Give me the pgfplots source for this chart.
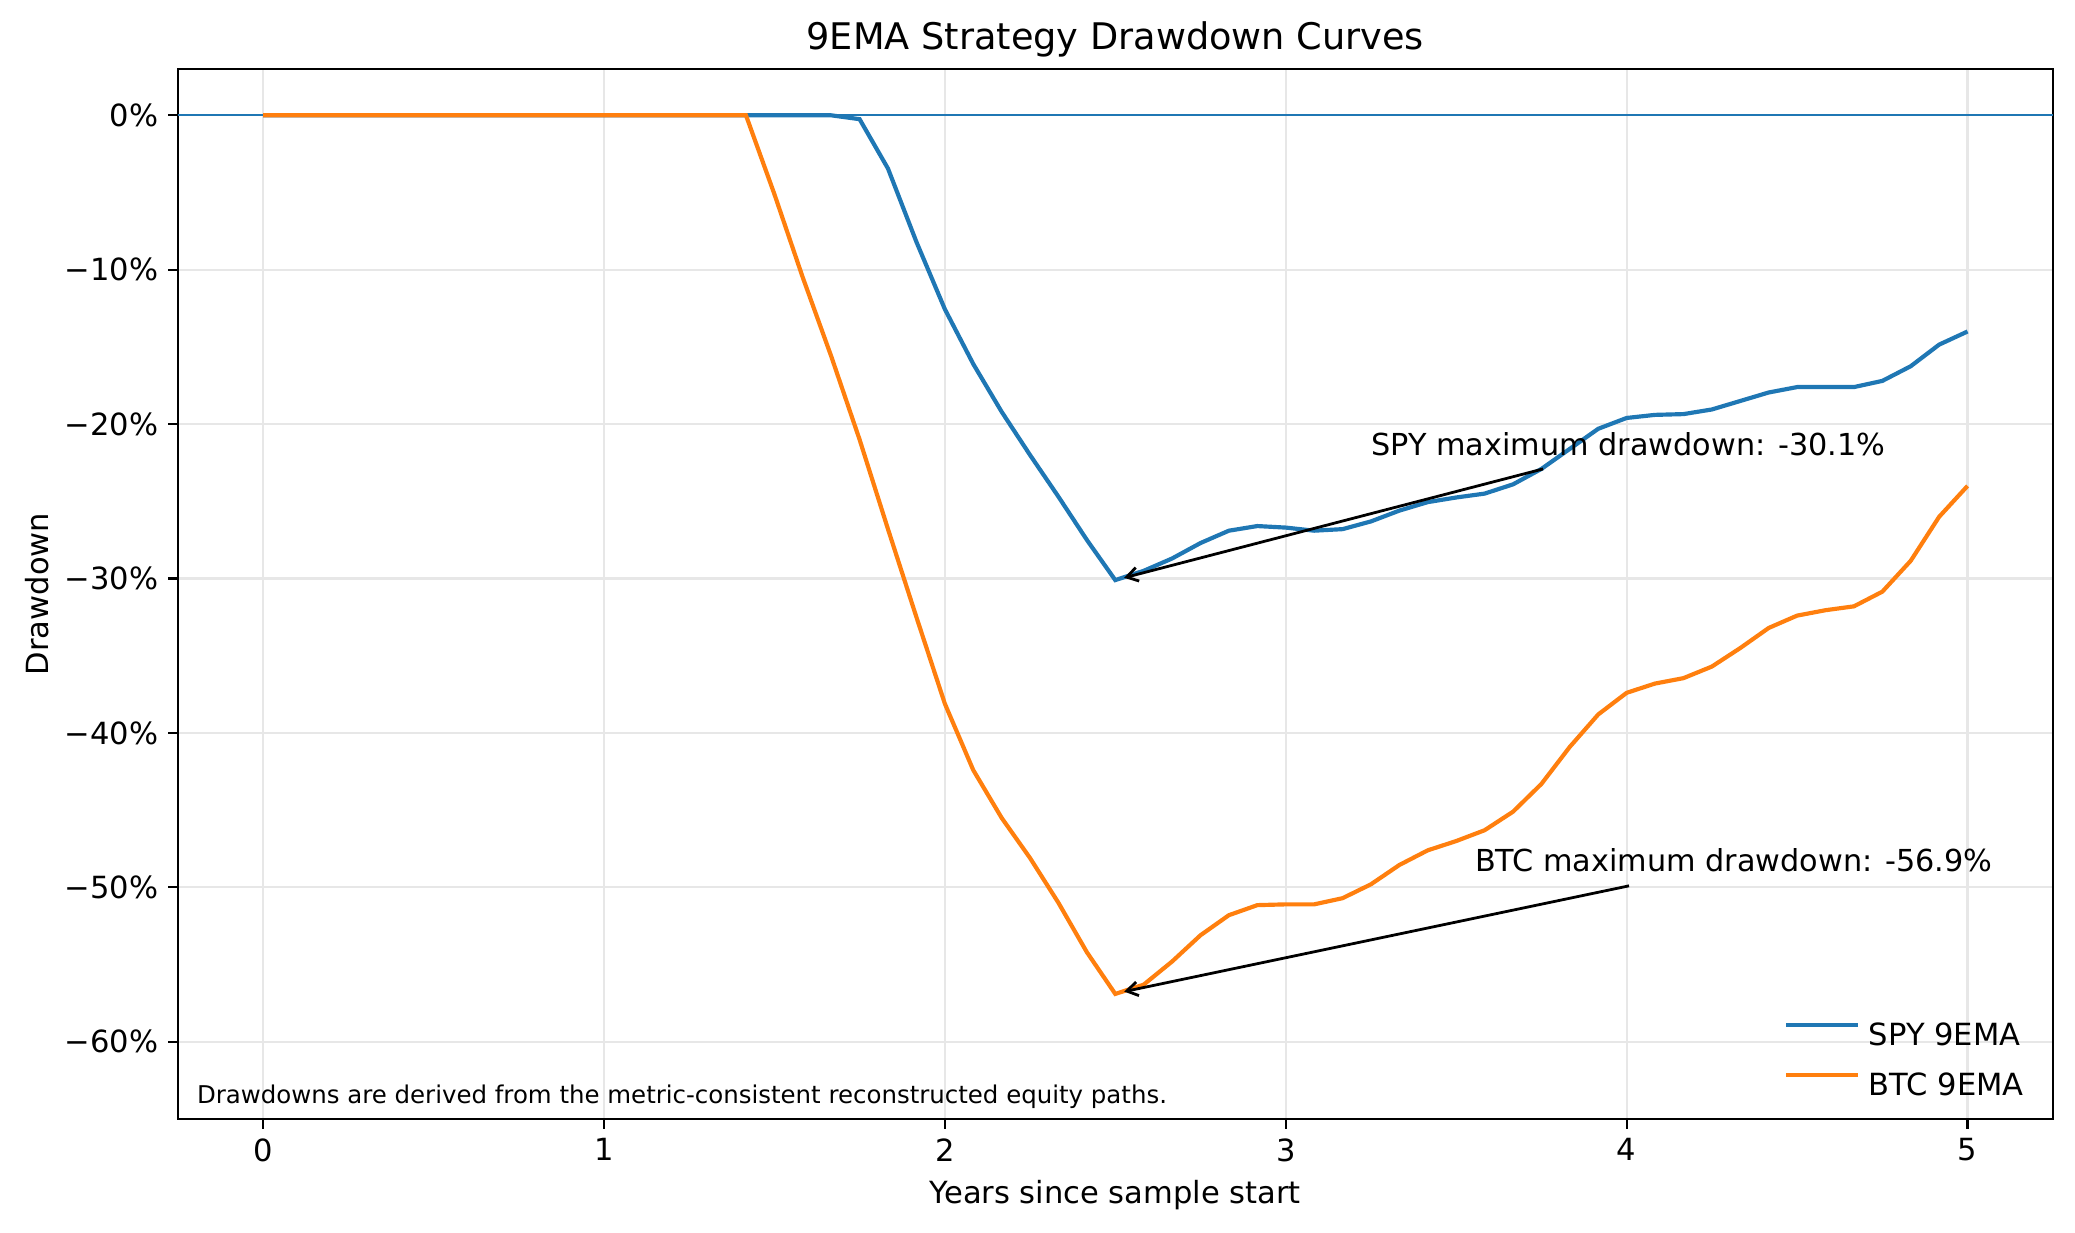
\documentclass[border=0pt]{standalone}
\usepackage{fontspec}
\setmainfont{DejaVu Sans}
\usepackage{pgfplots}
\usepackage{pgfplotstable}
\pgfplotsset{compat=1.18}
\usetikzlibrary{arrows.meta}
\definecolor{c0}{HTML}{1F77B4}
\definecolor{c1}{HTML}{FF7F0E}
\definecolor{gridc}{HTML}{E7E7E7}

\pgfplotstableread{
t v
0 0
1.6667 0
1.75 -0.25
1.8333 -3.45
1.9167 -8.2
2.0 -12.55
2.0833 -16.1
2.1667 -19.2
2.25 -22.0
2.3333 -24.7
2.4167 -27.5
2.5 -30.1
2.5833 -29.5
2.6667 -28.7
2.75 -27.7
2.8333 -26.9
2.9167 -26.6
3.0 -26.7
3.0833 -26.9
3.1667 -26.8
3.25 -26.3
3.3333 -25.6
3.4167 -25.05
3.5 -24.75
3.5833 -24.5
3.6667 -23.9
3.75 -22.9
3.8333 -21.6
3.9167 -20.3
4.0 -19.6
4.0833 -19.4
4.1667 -19.35
4.25 -19.05
4.3333 -18.5
4.4167 -17.95
4.5 -17.6
4.5833 -17.6
4.6667 -17.6
4.75 -17.2
4.8333 -16.25
4.9167 -14.85
5.0 -14.0
}\spy

\pgfplotstableread{
t v
0 0
1.4167 0
1.5 -5.1
1.5833 -10.5
1.6667 -15.6
1.75 -21.0
1.8333 -26.8
1.9167 -32.5
2.0 -38.1
2.0833 -42.4
2.1667 -45.5
2.25 -48.1
2.3333 -51.0
2.4167 -54.2
2.5 -56.9
2.5833 -56.3
2.6667 -54.8
2.75 -53.1
2.8333 -51.8
2.9167 -51.15
3.0 -51.1
3.0833 -51.1
3.1667 -50.7
3.25 -49.8
3.3333 -48.55
3.4167 -47.6
3.5 -47.0
3.5833 -46.3
3.6667 -45.1
3.75 -43.3
3.8333 -40.9
3.9167 -38.8
4.0 -37.4
4.0833 -36.8
4.1667 -36.45
4.25 -35.7
4.3333 -34.5
4.4167 -33.2
4.5 -32.4
4.5833 -32.05
4.6667 -31.8
4.75 -30.85
4.8333 -28.85
4.9167 -26.0
5.0 -24.0
}\btc

\begin{document}
\begin{tikzpicture}
\begin{axis}[
  scale only axis, width=675pt, height=378pt,
  xmin=-0.25, xmax=5.25, ymin=-65, ymax=3,
  xtick={0,1,2,3,4,5}, xticklabels={0,1,2,3,4,5},
  ytick={-60,-50,-40,-30,-20,-10,0},
  yticklabels={−60\%,−50\%,−40\%,−30\%,−20\%,−10\%,0\%},
  tick align=outside, tick pos=left,
  major tick length=3.5pt,
  every tick/.style={black, line width=0.8pt},
  axis line style={line width=0.8pt},
  grid=major, major grid style={gridc, line width=0.8pt},
  tick label style={font=\fontsize{11}{13}\selectfont},
  clip=false,
  legend cell align=left,
  legend style={draw=none, fill=none, inner sep=0pt, outer sep=0pt,
    at={(1,0)}, anchor=south east, xshift=-7.1pt, yshift=3.8pt,
    row sep=1.5pt, font=\fontsize{11}{13}\selectfont,
    nodes={inner sep=3.33pt},
    /tikz/every even column/.append style={column sep=5.6pt}},
  legend image code/.code={\draw[#1] (-1.2pt,4pt) -- (24.5pt,4pt);},
]
\addplot[c0, line width=0.8pt, forget plot] coordinates {(-0.25,0) (5.25,0)};
\addplot[c0, line width=1.5pt] table[x=t, y=v] {\spy};
\addlegendentry{SPY 9EMA}
\addplot[c1, line width=1.5pt] table[x=t, y=v] {\btc};
\addlegendentry{BTC 9EMA}

\draw[-{Straight Barb[length=4pt, width=5pt]}, line width=1pt] (axis cs:3.755,-22.9) -- (axis cs:2.526,-29.95);
\node[anchor=base west, inner sep=0pt, font=\fontsize{10.9}{13}\selectfont] at (axis cs:3.25,-22) {SPY maximum drawdown: -30.1\%};
\draw[-{Straight Barb[length=4pt, width=5pt]}, line width=1pt] (axis cs:4.007,-49.9) -- (axis cs:2.526,-56.75);
\node[anchor=base west, inner sep=0pt, font=\fontsize{10.9}{13}\selectfont] at (axis cs:3.554,-49) {BTC maximum drawdown: -56.9\%};

\node[anchor=base west, inner sep=0pt, font=\fontsize{8.8}{11}\selectfont] at (rel axis cs:0.01,0.015) {Drawdowns are derived from the metric-consistent reconstructed equity paths.};

\node[inner sep=0pt, font=\fontsize{13.2}{15}\selectfont] at ([yshift=10.5pt]rel axis cs:0.5,1) {9EMA Strategy Drawdown Curves};
\node[inner sep=0pt, font=\fontsize{11}{13}\selectfont] at ([yshift=-27.4pt]rel axis cs:0.5,0) {Years since sample start};
\node[inner sep=0pt, rotate=90, font=\fontsize{11}{13}\selectfont] at ([xshift=-50.6pt]rel axis cs:0,0.5) {Drawdown};
\end{axis}
\path (-64pt,-41pt) rectangle (683pt,402.84pt);
\end{tikzpicture}
\end{document}
